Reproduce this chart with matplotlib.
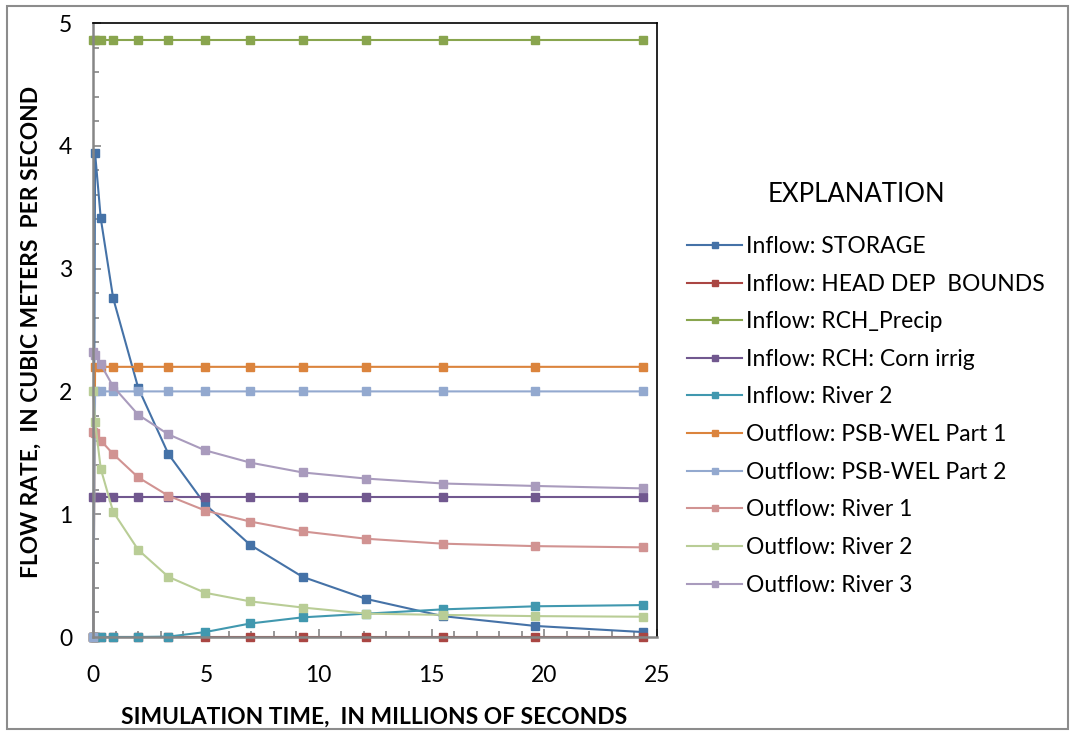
import matplotlib
matplotlib.use('Agg')
import matplotlib.pyplot as plt
from matplotlib.ticker import MultipleLocator
from matplotlib.patches import Rectangle

plt.rcParams['font.family'] = ['Lato', 'DejaVu Sans']

# simulation time, millions of seconds
time_ms = [0, 0.08, 0.33, 0.88, 1.99, 3.33, 4.96, 6.96, 9.28, 12.1, 15.5, 19.6, 24.4]

storage_in = [0, 3.94, 3.41, 2.76, 2.03, 1.49, 1.08, 0.75, 0.49, 0.31, 0.17, 0.09, 0.04]
head_dep_in = [0, 0, 0, 0, 0, 0, 0, 0, 0, 0, 0, 0, 0]
precip_in = [4.86, 4.86, 4.86, 4.86, 4.86, 4.86, 4.86, 4.86, 4.86, 4.86, 4.86, 4.86, 4.86]
corn_in = [1.14, 1.14, 1.14, 1.14, 1.14, 1.14, 1.14, 1.14, 1.14, 1.14, 1.14, 1.14, 1.14]
river2_in = [0, 0, 0, 0, 0, 0.003, 0.04, 0.11, 0.16, 0.19, 0.225, 0.25, 0.26]
wel1_out = [0, 2.2, 2.2, 2.2, 2.2, 2.2, 2.2, 2.2, 2.2, 2.2, 2.2, 2.2, 2.2]
wel2_out = [0, 2.0, 2.0, 2.0, 2.0, 2.0, 2.0, 2.0, 2.0, 2.0, 2.0, 2.0, 2.0]
river1_out = [1.67, 1.66, 1.60, 1.49, 1.30, 1.15, 1.03, 0.94, 0.86, 0.80, 0.76, 0.74, 0.73]
river2_out = [2.0, 1.75, 1.37, 1.02, 0.71, 0.49, 0.36, 0.29, 0.24, 0.19, 0.18, 0.17, 0.165]
river3_out = [2.32, 2.30, 2.22, 2.04, 1.81, 1.65, 1.52, 1.42, 1.34, 1.29, 1.25, 1.23, 1.21]

names = ['Inflow: STORAGE', 'Inflow: HEAD DEP  BOUNDS', 'Inflow: RCH_Precip',
         'Inflow: RCH: Corn irrig', 'Inflow: River 2', 'Outflow: PSB-WEL Part 1',
         'Outflow: PSB-WEL Part 2', 'Outflow: River 1', 'Outflow: River 2',
         'Outflow: River 3']
series = [storage_in, head_dep_in, precip_in, corn_in, river2_in,
          wel1_out, wel2_out, river1_out, river2_out, river3_out]
colors = ['#4572A7', '#AA4643', '#89A54E', '#71588F', '#4198AF',
          '#DB843D', '#93A9CF', '#D19392', '#B9CD96', '#A99BBD']

W, H = 1074, 735
fig = plt.figure(figsize=(W / 100, H / 100), dpi=100)
ax = fig.add_axes([93.3 / W, 1 - 637 / H, (657 - 93.3) / W, (637 - 23) / H])

for vals, name, col in zip(series, names, colors):
    ax.plot(time_ms, vals, color=col, lw=1.5, marker='s', ms=5.5,
            label=name, clip_on=False)

ax.set_xlim(0, 25)
ax.set_ylim(0, 5)
ax.xaxis.set_major_locator(MultipleLocator(5))
ax.xaxis.set_minor_locator(MultipleLocator(1))
ax.yaxis.set_major_locator(MultipleLocator(1))
ax.yaxis.set_minor_locator(MultipleLocator(0.2))
ax.tick_params(which='both', direction='in', color='#868686', width=1.2,
               labelsize=16.5)
ax.tick_params(which='major', length=6)
ax.tick_params(which='minor', length=4)
ax.tick_params(axis='x', pad=20)
ax.tick_params(axis='y', pad=15)

for s in ['left', 'bottom']:
    ax.spines[s].set_color('#868686')
    ax.spines[s].set_linewidth(1.8)
for s in ['top', 'right']:
    ax.spines[s].set_color('black')
    ax.spines[s].set_linewidth(1.2)

fig.text(31 / W, 1 - 332 / H, 'FLOW RATE,  IN CUBIC METERS  PER SECOND',
         rotation=90, ha='center', va='center', fontsize=16.4, fontweight='bold')
fig.text(374 / W, 1 - 717 / H, 'SIMULATION TIME,  IN MILLIONS OF SECONDS',
         ha='center', va='center', fontsize=16.4, fontweight='bold')

fig.text(856 / W, 1 - 195 / H, 'EXPLANATION', ha='center', va='center',
         fontsize=18.5)
leg = fig.legend(loc='upper left', bbox_to_anchor=(687 / W, 1 - 236 / H),
                 frameon=False, fontsize=16.5, handlelength=2.4,
                 handletextpad=0.17, labelspacing=0.725, markerscale=0.75,
                 borderaxespad=0, borderpad=0)

fig.patches.append(Rectangle((7 / W, 6 / H), (1068 - 7) / W, (729 - 6) / H,
                             transform=fig.transFigure, fill=False,
                             edgecolor='#8c8c8c', lw=1.5))

fig.savefig('out.png', dpi=100)
